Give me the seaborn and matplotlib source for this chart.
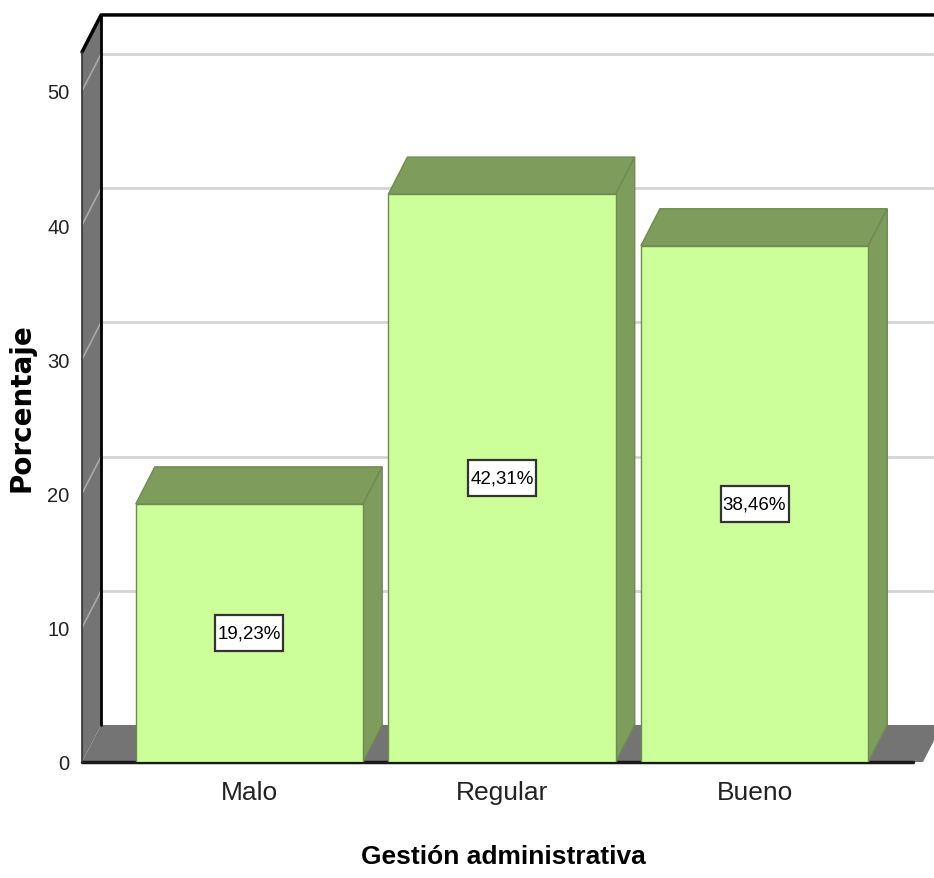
import matplotlib
matplotlib.use("Agg")
import matplotlib.pyplot as plt
from matplotlib.patches import Polygon, Rectangle
import seaborn as sns
import pandas as pd

categories = ["Malo", "Regular", "Bueno"]
percentages = [19.23, 42.31, 38.46]
value_labels = ["19,23%", "42,31%", "38,46%"]
y_ticks = [0, 10, 20, 30, 40, 50]

df = pd.DataFrame({"Gestión administrativa": categories, "Porcentaje": percentages})

sns.set_theme(style="white")
FONT = ["Liberation Sans", "DejaVu Sans"]
plt.rcParams["font.family"] = FONT

W, H = 934, 879
fig = plt.figure(figsize=(W / 100, H / 100), dpi=100)
AX_W, AX_H = 923 - 82, 763 - 53
ax = fig.add_axes([82 / W, (H - 763) / H, AX_W / W, AX_H / H])

x0, x1 = -0.663, 2.667
ytop = 52.9

# depth offset for the pseudo-3D box
dx, dy = 0.0755, 2.76

wall_grey = "#747474"
grid_col = "#d4d4d4"
bar_face = "#ccff99"
bar_shade = "#7e9c5c"
bar_edge = "#6f8a52"

# front faces of the bars
sns.barplot(data=df, x="Gestión administrativa", y="Porcentaje", order=categories,
            color=bar_face, saturation=1, width=0.9, edgecolor=bar_edge,
            linewidth=1, ax=ax, zorder=4)
bars = list(ax.patches)

ax.set_xlim(x0, x1)
ax.set_ylim(0, ytop)

# back-wall grid lines and their continuation across the left wall
for v in y_ticks[1:]:
    ax.plot([x0 + dx, x1 + 1.0], [v + dy, v + dy], color=grid_col, lw=2,
            clip_on=False, zorder=1)

# left wall
ax.add_patch(Polygon([(x0, 0), (x0, ytop), (x0 + dx, ytop + dy), (x0 + dx, dy)],
                     closed=True, facecolor=wall_grey, edgecolor="none",
                     clip_on=False, zorder=2))
for v in y_ticks[1:]:
    ax.plot([x0, x0 + dx], [v, v + dy], color="#a8a8a8", lw=1.2,
            clip_on=False, zorder=2.1)
# floor
ax.add_patch(Polygon([(x0, 0), (x1, 0), (x1 + dx, dy), (x0 + dx, dy)],
                     closed=True, facecolor=wall_grey, edgecolor="none",
                     clip_on=False, zorder=2))
# box outline
ax.plot([x0 + dx, x0 + dx], [dy, ytop + dy], color="black", lw=2, clip_on=False, zorder=2.2)
ax.plot([x0, x0 + dx, x1 + 1.0], [ytop, ytop + dy, ytop + dy], color="black", lw=2.5,
        clip_on=False, zorder=2.2)
ax.plot([x0, x1 - 0.04], [0, 0], color="#1a1a1a", lw=2.5, clip_on=False, zorder=2.2)
ax.plot([x0, x0], [0, ytop], color="#333333", lw=1.2, clip_on=False, zorder=2.2)

# label box size in data units (68 x 36 px)
box_w = 68 / AX_W * (x1 - x0)
box_h = 36 / AX_H * ytop

for patch, lab in zip(bars, value_labels):
    bx, bw, bh = patch.get_x(), patch.get_width(), patch.get_height()
    top = [(bx, bh), (bx + dx, bh + dy), (bx + bw + dx, bh + dy), (bx + bw, bh)]
    side = [(bx + bw, 0), (bx + bw, bh), (bx + bw + dx, bh + dy), (bx + bw + dx, dy)]
    for pts in (top, side):
        ax.add_patch(Polygon(pts, closed=True, facecolor=bar_shade,
                             edgecolor=bar_edge, lw=1, zorder=3.5))
    cx, cy = bx + bw / 2, bh / 2
    ax.add_patch(Rectangle((cx - box_w / 2, cy - box_h / 2), box_w, box_h,
                           facecolor="white", edgecolor="#333333", lw=1.6, zorder=5))
    ax.text(cx, cy, lab, ha="center", va="center", fontsize=13.5,
            color="black", zorder=6)

ax.set_yticks(y_ticks)
ax.set_yticklabels([str(t) for t in y_ticks], fontsize=14.5, color="#222222")
ax.set_xticks(range(len(categories)))
ax.set_xticklabels(categories, fontsize=19, color="#222222")
ax.tick_params(axis="y", length=0, pad=9)
ax.tick_params(axis="x", length=0, pad=13)
for s in ax.spines.values():
    s.set_visible(False)
ax.set_facecolor("none")

ax.set_ylabel("Porcentaje", fontsize=20, fontweight="bold", color="black",
              family=["DejaVu Sans"])
ax.yaxis.set_label_coords(-(82 - 35) / AX_W, (763 - 408) / AX_H)
ax.set_xlabel("Gestión administrativa", fontsize=19, fontweight="bold", color="black")
ax.xaxis.set_label_coords((503 - 82) / AX_W, -(845 - 763) / AX_H)

fig.savefig("out.png", dpi=100)
